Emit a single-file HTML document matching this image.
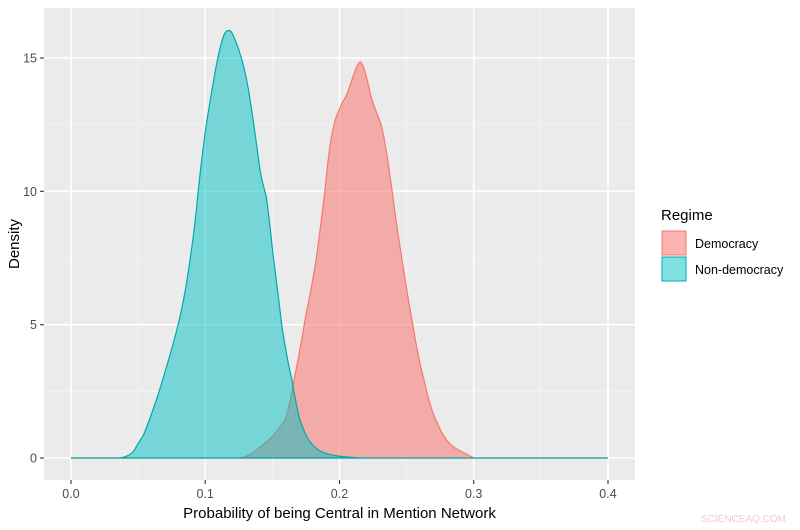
<!DOCTYPE html>
<html><head><meta charset="utf-8"><style>
html,body{margin:0;padding:0;background:#fff;}
svg{display:block;font-family:"Liberation Sans",sans-serif;}
</style></head><body>
<svg width="800" height="530" viewBox="0 0 800 530">
<rect x="44" y="8" width="591" height="472" fill="#ebebeb"/>
<g stroke="#f5f5f5" stroke-width="0.8">
<line x1="44" x2="635" y1="391.3" y2="391.3"/><line x1="44" x2="635" y1="258" y2="258"/><line x1="44" x2="635" y1="124.7" y2="124.7"/>
<line x1="138.1" x2="138.1" y1="8" y2="480"/><line x1="272.4" x2="272.4" y1="8" y2="480"/><line x1="406.6" x2="406.6" y1="8" y2="480"/><line x1="540.9" x2="540.9" y1="8" y2="480"/>
</g>
<g stroke="#fff" stroke-width="1.6">
<line x1="44" x2="635" y1="458" y2="458"/><line x1="44" x2="635" y1="324.7" y2="324.7"/><line x1="44" x2="635" y1="191.3" y2="191.3"/><line x1="44" x2="635" y1="58" y2="58"/>
<line x1="71" x2="71" y1="8" y2="480"/><line x1="205.2" x2="205.2" y1="8" y2="480"/><line x1="339.5" x2="339.5" y1="8" y2="480"/><line x1="473.7" x2="473.7" y1="8" y2="480"/><line x1="608" x2="608" y1="8" y2="480"/>
</g>
<path d="M71,458 L240,458 C248,457 255,452 265,443 C272,438 278,430 285,420 C290,405 292,392 294,380 C298,360 302,340 305,320 C309,300 313,280 316,260 C319,240 322,215 325,190 C328,160 331,130 337,115 C340,108 342,102 345,98 C350,90 355,65 360,62 C364,62 368,85 372,100 C376,112 380,120 382,128 C386,145 389,170 392,190 C395,215 399,240 402,260 C406,285 409,305 412,320 C416,345 420,365 424,380 C428,398 432,412 436,420 C441,432 446,442 455,448 C464,453 470,456 474,458 L608,458 Z" fill="#F8766D" fill-opacity="0.55" stroke="#F8766D" stroke-width="1.2"/>
<path d="M71,458 L120,458 C126,457 130,455 133,452 C137,446 140,440 143,436 C148,425 153,410 158,395 C165,372 172,350 178,325 C183,305 187,282 190,260 C193,240 196,215 198,193 C201,165 204,140 207,120 C212,90 218,50 224,35 C226,30 230,29 232,33 C238,45 244,65 248,87 C252,110 256,140 260,170 C262,183 264,188 266,195 C269,215 271,235 273,255 C277,285 280,310 282,327 C286,352 289,368 292,380 C295,398 297,410 300,420 C305,435 310,445 320,451 C330,456 345,457 360,458 L608,458 Z" fill="#00BFC4" fill-opacity="0.5" stroke="#00A9AD" stroke-width="1.2"/>
<g stroke="#333" stroke-width="1.1">
<line x1="40" x2="44" y1="458" y2="458"/><line x1="40" x2="44" y1="324.7" y2="324.7"/><line x1="40" x2="44" y1="191.3" y2="191.3"/><line x1="40" x2="44" y1="58" y2="58"/>
<line x1="71" x2="71" y1="480" y2="484"/><line x1="205.2" x2="205.2" y1="480" y2="484"/><line x1="339.5" x2="339.5" y1="480" y2="484"/><line x1="473.7" x2="473.7" y1="480" y2="484"/><line x1="608" x2="608" y1="480" y2="484"/>
</g>
<g fill="#4d4d4d" font-size="12.5" text-anchor="end">
<text x="37" y="462.5">0</text><text x="37" y="329">5</text><text x="37" y="196">10</text><text x="37" y="62.5">15</text>
</g>
<g fill="#4d4d4d" font-size="12.5" text-anchor="middle">
<text x="71" y="498">0.0</text><text x="205.2" y="498">0.1</text><text x="339.5" y="498">0.2</text><text x="473.7" y="498">0.3</text><text x="608" y="498">0.4</text>
</g>
<text x="339.5" y="518" font-size="15" text-anchor="middle" fill="#000">Probability of being Central in Mention Network</text>
<text x="0" y="0" font-size="15" text-anchor="middle" fill="#000" transform="translate(19,244) rotate(-90)">Density</text>
<text x="661" y="220" font-size="15" fill="#000">Regime</text>
<rect x="662" y="231" width="24" height="24" fill="#F8766D" fill-opacity="0.55" stroke="#F8766D" stroke-width="1"/>
<rect x="662" y="257" width="24" height="24" fill="#00BFC4" fill-opacity="0.5" stroke="#00A9AD" stroke-width="1"/>
<text x="695" y="248" font-size="12.5" fill="#000">Democracy</text>
<text x="695" y="274" font-size="12.5" fill="#000">Non-democracy</text>
<text x="786" y="522" font-size="10" fill="#f4c9cc" text-anchor="end">SCIENCEAQ.COM</text>
</svg>
</body></html>
